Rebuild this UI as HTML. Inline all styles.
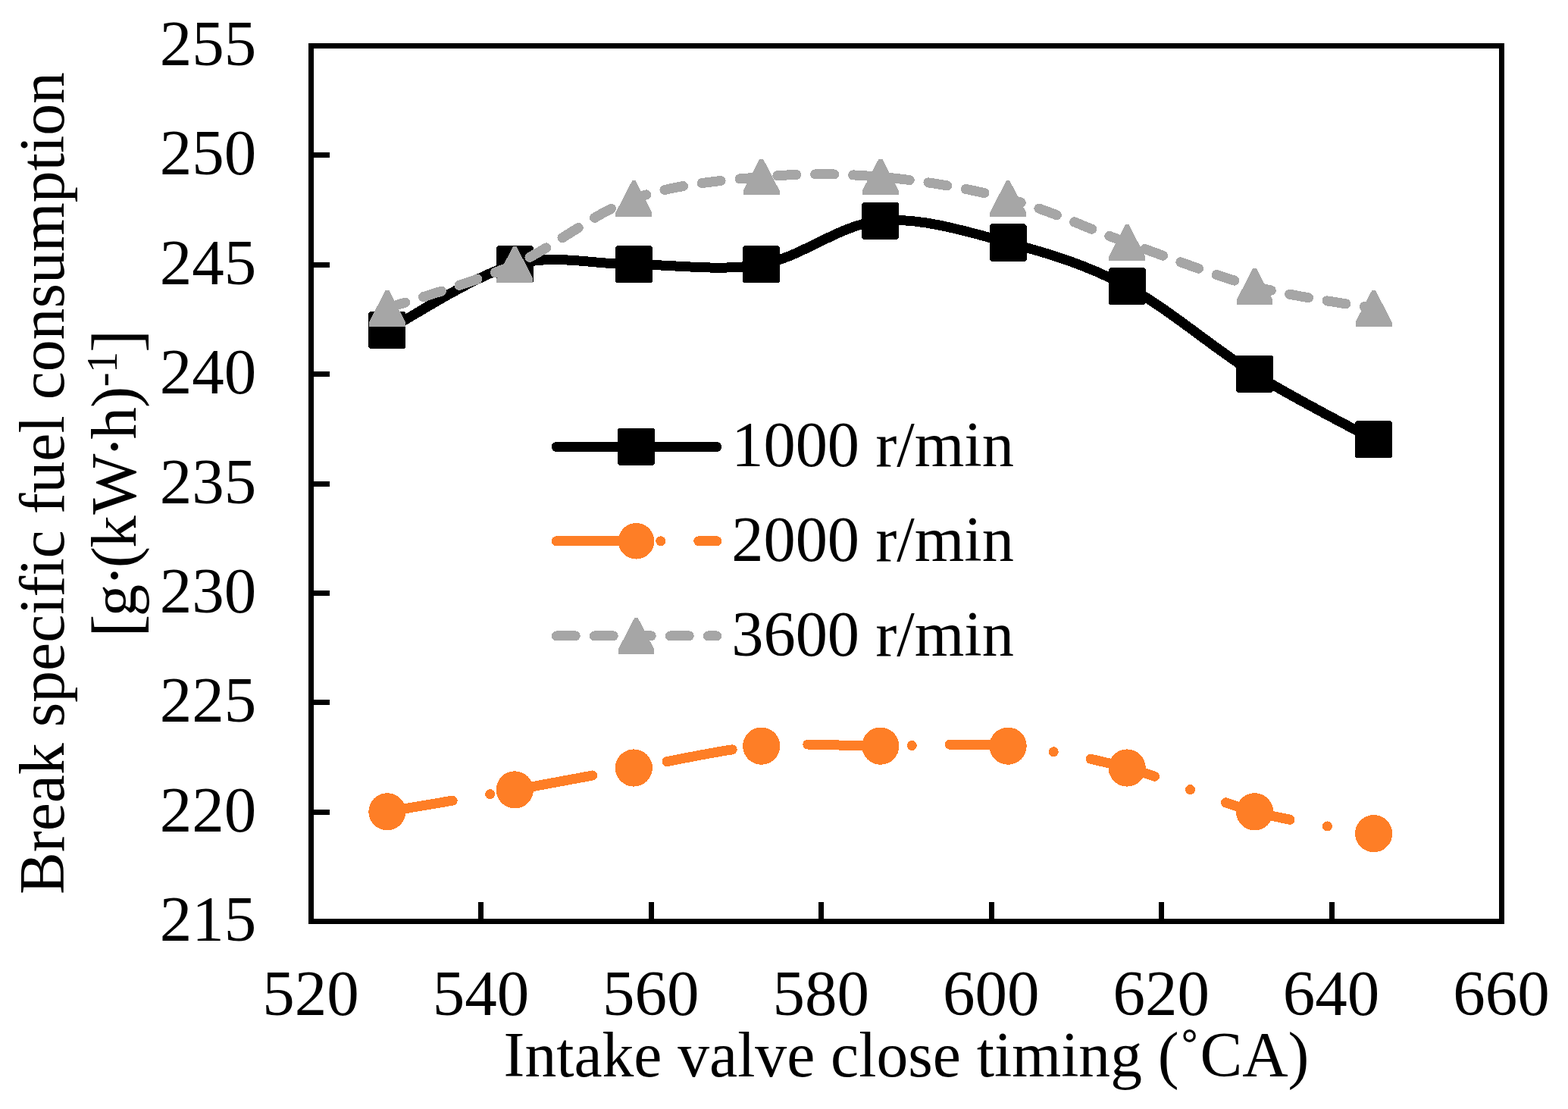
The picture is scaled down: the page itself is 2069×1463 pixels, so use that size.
<!DOCTYPE html><html><head><meta charset="utf-8"><title>Break specific fuel consumption vs intake valve close timing</title><style>html,body{margin:0;padding:0;background:#fff;overflow:hidden}svg{display:block}path,rect,circle,polygon{shape-rendering:crispEdges}text{font-family:"Liberation Serif","Times New Roman",serif;fill:#000}</style></head><body>
<svg width="2069" height="1463" viewBox="0 0 2069 1463">
<rect width="2069" height="1463" fill="#fff"/>
<path d="M410.50,1071.12H435.00M410.50,926.75H435.00M410.50,782.38H435.00M410.50,638.00H435.00M410.50,493.62H435.00M410.50,349.25H435.00M410.50,204.88H435.00M634.93,1215.50V1190.00M859.36,1215.50V1190.00M1083.79,1215.50V1190.00M1308.21,1215.50V1190.00M1532.64,1215.50V1190.00M1757.07,1215.50V1190.00" stroke="#000" stroke-width="7" fill="none"/>
<path d="M510.94,435.52 C539.00,421.09 625.03,363.34 679.26,348.90 C733.50,334.46 782.13,348.90 836.36,348.90 C890.60,348.90 950.45,358.52 1004.69,348.90 C1058.92,339.27 1107.55,295.96 1161.79,291.15 C1216.02,286.34 1275.87,305.59 1330.11,320.02 C1384.34,334.46 1432.97,348.90 1487.21,377.77 C1541.44,406.65 1601.29,459.59 1655.53,493.27 C1709.77,526.96 1786.45,565.46 1812.63,579.90" stroke="#000" stroke-width="13.0" fill="none" stroke-linecap="round" stroke-linejoin="round"/>
<g fill="#000"><polygon points="488.59,410.97 533.29,410.97 535.49,413.17 535.49,457.88 533.29,460.07 488.59,460.07 486.39,457.88 486.39,413.17"/><polygon points="656.91,324.35 701.61,324.35 703.81,326.55 703.81,371.25 701.61,373.45 656.91,373.45 654.71,371.25 654.71,326.55"/><polygon points="814.01,324.35 858.71,324.35 860.91,326.55 860.91,371.25 858.71,373.45 814.01,373.45 811.81,371.25 811.81,326.55"/><polygon points="982.34,324.35 1027.04,324.35 1029.24,326.55 1029.24,371.25 1027.04,373.45 982.34,373.45 980.14,371.25 980.14,326.55"/><polygon points="1139.44,266.60 1184.14,266.60 1186.34,268.80 1186.34,313.50 1184.14,315.70 1139.44,315.70 1137.24,313.50 1137.24,268.80"/><polygon points="1307.76,295.47 1352.46,295.47 1354.66,297.67 1354.66,342.38 1352.46,344.57 1307.76,344.57 1305.56,342.38 1305.56,297.67"/><polygon points="1464.86,353.22 1509.56,353.22 1511.76,355.42 1511.76,400.12 1509.56,402.32 1464.86,402.32 1462.66,400.12 1462.66,355.42"/><polygon points="1633.18,468.72 1677.88,468.72 1680.08,470.92 1680.08,515.62 1677.88,517.82 1633.18,517.82 1630.98,515.62 1630.98,470.92"/><polygon points="1790.28,555.35 1834.98,555.35 1837.18,557.55 1837.18,602.25 1834.98,604.45 1790.28,604.45 1788.08,602.25 1788.08,557.55"/></g>
<path d="M510.94,1070.78 C539.00,1065.96 625.03,1051.53 679.26,1041.90 C733.50,1032.28 782.13,1022.65 836.36,1013.02 C890.60,1003.40 950.45,988.96 1004.69,984.15 C1058.92,979.34 1107.55,984.15 1161.79,984.15 C1216.02,984.15 1275.87,979.34 1330.11,984.15 C1384.34,988.96 1432.97,998.59 1487.21,1013.02 C1541.44,1027.46 1601.29,1056.34 1655.53,1070.78 C1709.77,1085.21 1786.45,1094.84 1812.63,1099.65" stroke="#FE7E26" stroke-width="13.0" fill="none" stroke-linecap="round" stroke-linejoin="round" stroke-dasharray="87.50 50.00 0 50.00"/>
<g fill="#FE7E26"><circle cx="510.94" cy="1070.78" r="24.60"/><circle cx="679.26" cy="1041.90" r="24.60"/><circle cx="836.36" cy="1013.02" r="24.60"/><circle cx="1004.69" cy="984.15" r="24.60"/><circle cx="1161.79" cy="984.15" r="24.60"/><circle cx="1330.11" cy="984.15" r="24.60"/><circle cx="1487.21" cy="1013.02" r="24.60"/><circle cx="1655.53" cy="1070.78" r="24.60"/><circle cx="1812.63" cy="1099.65" r="24.60"/></g>
<path d="M510.94,406.65 C539.00,397.02 625.03,372.96 679.26,348.90 C733.50,324.84 782.13,281.52 836.36,262.27 C890.60,243.02 950.45,238.21 1004.69,233.40 C1058.92,228.59 1107.55,228.59 1161.79,233.40 C1216.02,238.21 1275.87,247.84 1330.11,262.27 C1384.34,276.71 1432.97,300.77 1487.21,320.02 C1541.44,339.27 1601.29,363.34 1655.53,377.77 C1709.77,392.21 1786.45,401.84 1812.63,406.65" stroke="#A6A6A6" stroke-width="13.0" fill="none" stroke-linecap="round" stroke-linejoin="round" stroke-dasharray="25.00 25.00"/>
<g fill="#A6A6A6"><polygon points="508.74,382.75 513.14,382.75 534.84,424.65 534.84,430.55 487.04,430.55 487.04,424.65"/><polygon points="677.06,325.00 681.46,325.00 703.16,366.90 703.16,372.80 655.36,372.80 655.36,366.90"/><polygon points="834.16,238.37 838.56,238.37 860.26,280.27 860.26,286.17 812.46,286.17 812.46,280.27"/><polygon points="1002.49,209.50 1006.89,209.50 1028.59,251.40 1028.59,257.30 980.79,257.30 980.79,251.40"/><polygon points="1159.59,209.50 1163.99,209.50 1185.69,251.40 1185.69,257.30 1137.89,257.30 1137.89,251.40"/><polygon points="1327.91,238.37 1332.31,238.37 1354.01,280.27 1354.01,286.17 1306.21,286.17 1306.21,280.27"/><polygon points="1485.01,296.12 1489.41,296.12 1511.11,338.02 1511.11,343.92 1463.31,343.92 1463.31,338.02"/><polygon points="1653.33,353.88 1657.73,353.88 1679.43,395.77 1679.43,401.67 1631.63,401.67 1631.63,395.77"/><polygon points="1810.43,382.75 1814.83,382.75 1836.53,424.65 1836.53,430.55 1788.73,430.55 1788.73,424.65"/></g>
<rect x="410.50" y="60.50" width="1571.00" height="1155.00" fill="none" stroke="#000" stroke-width="7"/>
<text x="338.3" y="1241.00" font-size="85" text-anchor="end">215</text>
<text x="338.3" y="1096.62" font-size="85" text-anchor="end">220</text>
<text x="338.3" y="952.25" font-size="85" text-anchor="end">225</text>
<text x="338.3" y="807.88" font-size="85" text-anchor="end">230</text>
<text x="338.3" y="663.50" font-size="85" text-anchor="end">235</text>
<text x="338.3" y="519.12" font-size="85" text-anchor="end">240</text>
<text x="338.3" y="374.75" font-size="85" text-anchor="end">245</text>
<text x="338.3" y="230.38" font-size="85" text-anchor="end">250</text>
<text x="338.3" y="86.00" font-size="85" text-anchor="end">255</text>
<text x="410.00" y="1338.6" font-size="85" text-anchor="middle">520</text>
<text x="634.43" y="1338.6" font-size="85" text-anchor="middle">540</text>
<text x="858.86" y="1338.6" font-size="85" text-anchor="middle">560</text>
<text x="1083.29" y="1338.6" font-size="85" text-anchor="middle">580</text>
<text x="1307.71" y="1338.6" font-size="85" text-anchor="middle">600</text>
<text x="1532.14" y="1338.6" font-size="85" text-anchor="middle">620</text>
<text x="1756.57" y="1338.6" font-size="85" text-anchor="middle">640</text>
<text x="1981.00" y="1338.6" font-size="85" text-anchor="middle">660</text>
<text x="664.58" y="1419.8" font-size="85" textLength="1062.83" lengthAdjust="spacingAndGlyphs">Intake valve close timing (˚CA)</text>
<text transform="translate(83.7,1180.01) rotate(-90)" font-size="85" textLength="1084.85" lengthAdjust="spacingAndGlyphs">Break specific fuel consumption</text>
<text transform="rotate(-90)"><tspan x="-840.72" y="183.90" font-size="90.9">[</tspan><tspan x="-813.27" y="178.90" font-size="85.0">g</tspan><tspan x="-773.40" y="178.90" font-size="85.0">·</tspan><tspan x="-749.20" y="178.90" font-size="85.0">(</tspan><tspan x="-722.66" y="178.90" font-size="85.0">k</tspan><tspan x="-678.77" y="178.90" font-size="85.0">W</tspan><tspan x="-603.55" y="178.90" font-size="85.0">·</tspan><tspan x="-579.45" y="178.90" font-size="85.0">h</tspan><tspan x="-538.05" y="178.90" font-size="85.0">)</tspan><tspan x="-510.24" y="153.50" font-size="56.5">-</tspan><tspan x="-492.01" y="153.50" font-size="56.5">1</tspan><tspan x="-465.11" y="183.90" font-size="90.9">]</tspan></text>
<path d="M734.25,589.40H945.75" stroke="#000" stroke-width="13.0" stroke-linecap="round"/>
<g fill="#000"><polygon points="817.15,564.85 861.85,564.85 864.05,567.05 864.05,611.75 861.85,613.95 817.15,613.95 814.95,611.75 814.95,567.05"/></g>
<path d="M734.25,713.80H945.75" stroke="#FE7E26" stroke-width="13.0" stroke-linecap="round" stroke-dasharray="87.50 50.00 0 50.00"/>
<g fill="#FE7E26"><circle cx="839.50" cy="713.80" r="23.80"/></g>
<path d="M734.25,838.90H945.75" stroke="#A6A6A6" stroke-width="13.0" stroke-linecap="round" stroke-dasharray="25.00 25.00"/>
<g fill="#A6A6A6"><polygon points="837.30,815.00 841.70,815.00 863.40,856.90 863.40,862.80 815.60,862.80 815.60,856.90"/></g>
<text x="965.29" y="615.0" font-size="85" textLength="372.66" lengthAdjust="spacingAndGlyphs">1000 r/min</text>
<text x="965.29" y="739.8" font-size="85" textLength="372.66" lengthAdjust="spacingAndGlyphs">2000 r/min</text>
<text x="965.29" y="865.0" font-size="85" textLength="372.66" lengthAdjust="spacingAndGlyphs">3600 r/min</text>
</svg></body></html>
